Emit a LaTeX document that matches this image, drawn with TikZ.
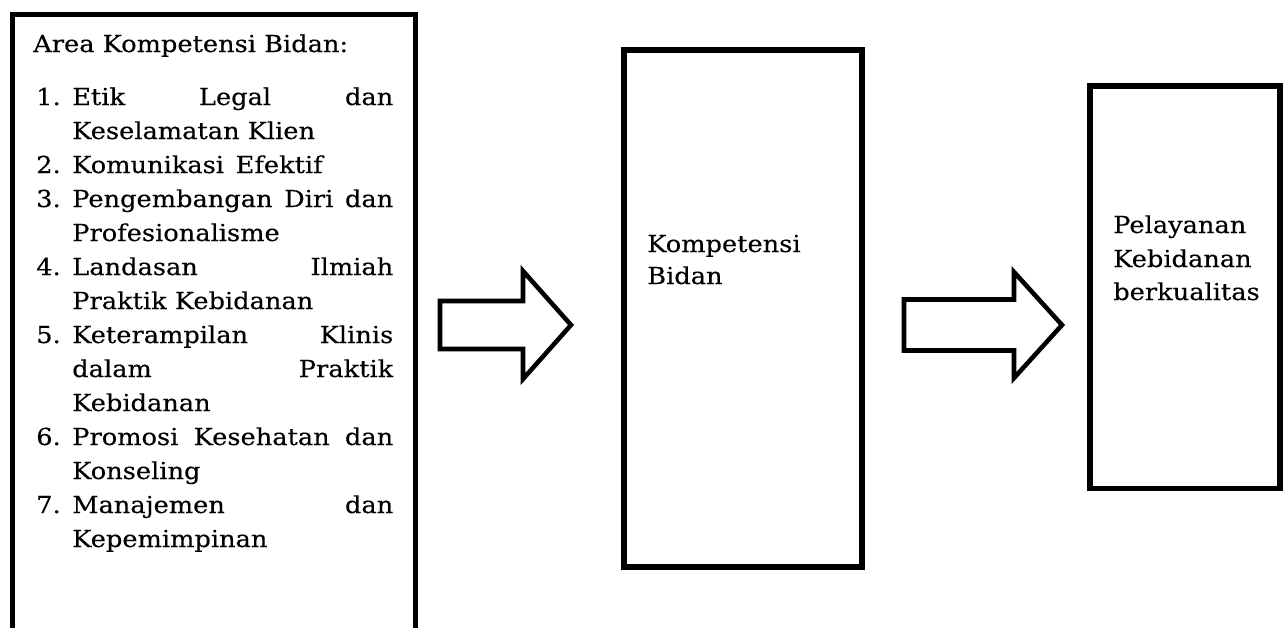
\documentclass[tikz,border=0pt]{standalone}
\usepackage{fontspec}
\setmainfont[FakeStretch=1.10,FakeBold=0.25]{DejaVu Serif}
\begin{document}
\tikzset{
  box/.style={draw, line width=4pt, rectangle, inner sep=0pt, fill=none},
  blockarrow/.style={draw, line width=3.4pt, line join=miter, miter limit=10},
  txt/.style={anchor=base west, inner sep=0pt, font=\fontsize{17.5}{21}\selectfont},
}
\newcommand{\jline}[1]{\hbox to 240.75pt{#1}}
\begin{tikzpicture}[x=0.75pt,y=-0.75pt]
\useasboundingbox (0,0) rectangle (1283,628);
% boxes
\node[box, minimum width=302.25pt, minimum height=484.1pt] (area) at (214,337.25) {};
\node[box, minimum width=178.5pt, minimum height=387.75pt] (komp) at (743,308.5) {};
\node[box, minimum width=142.5pt, minimum height=301.875pt] (pel) at (1185,287.25) {};
% block arrows
\draw[blockarrow] (440,301) coordinate (a1) -- (523,301) -- (523,271) -- (571,325) -- (523,379) -- (523,349) -- (440,349) -- cycle;
\draw[blockarrow] (904,299.5) coordinate (a2) -- (1014,299.5) -- (1014,272) -- (1062,325) -- (1014,378) -- (1014,350.5) -- (904,350.5) -- cycle;
% left box text
\node[txt] (h) at (33,52) {Area Kompetensi Bidan:};
\node[txt] (n1) at (36,105) {1.};
\node[txt] (t0) at (72,105) {\jline{Etik\hfill Legal\hfill dan}};
\node[txt] (t1) at (72,139) {Keselamatan Klien};
\node[txt] (n2) at (36,173) {2.};
\node[txt] (t2) at (72,173) {Komunikasi\hspace{0.5em}Efektif};
\node[txt] (n3) at (36,207) {3.};
\node[txt] (t3) at (72,207) {\jline{Pengembangan\hfill Diri\hfill dan}};
\node[txt] (t4) at (72,241) {Profesionalisme};
\node[txt] (n4) at (36,275) {4.};
\node[txt] (t5) at (72,275) {\jline{Landasan\hfill Ilmiah}};
\node[txt] (t6) at (72,309) {Praktik Kebidanan};
\node[txt] (n5) at (36,343) {5.};
\node[txt] (t7) at (72,343) {\jline{Keterampilan\hfill Klinis}};
\node[txt] (t8) at (72,377) {\jline{dalam\hfill Praktik}};
\node[txt] (t9) at (72,411) {Kebidanan};
\node[txt] (n6) at (36,445) {6.};
\node[txt] (t10) at (72,445) {\jline{Promosi\hfill Kesehatan\hfill dan}};
\node[txt] (t11) at (72,479) {Konseling};
\node[txt] (n7) at (36,513) {7.};
\node[txt] (t12) at (72,513) {\jline{Manajemen\hfill dan}};
\node[txt] (t13) at (72,547) {Kepemimpinan};
% middle box text
\node[txt] (k1) at (647,252) {Kompetensi};
\node[txt] (k2) at (647,284) {Bidan};
% right box text
\node[txt] (p1) at (1113,233) {Pelayanan};
\node[txt] (p2) at (1113,267) {Kebidanan};
\node[txt] (p3) at (1113,300) {berkualitas};
\end{tikzpicture}
\end{document}
